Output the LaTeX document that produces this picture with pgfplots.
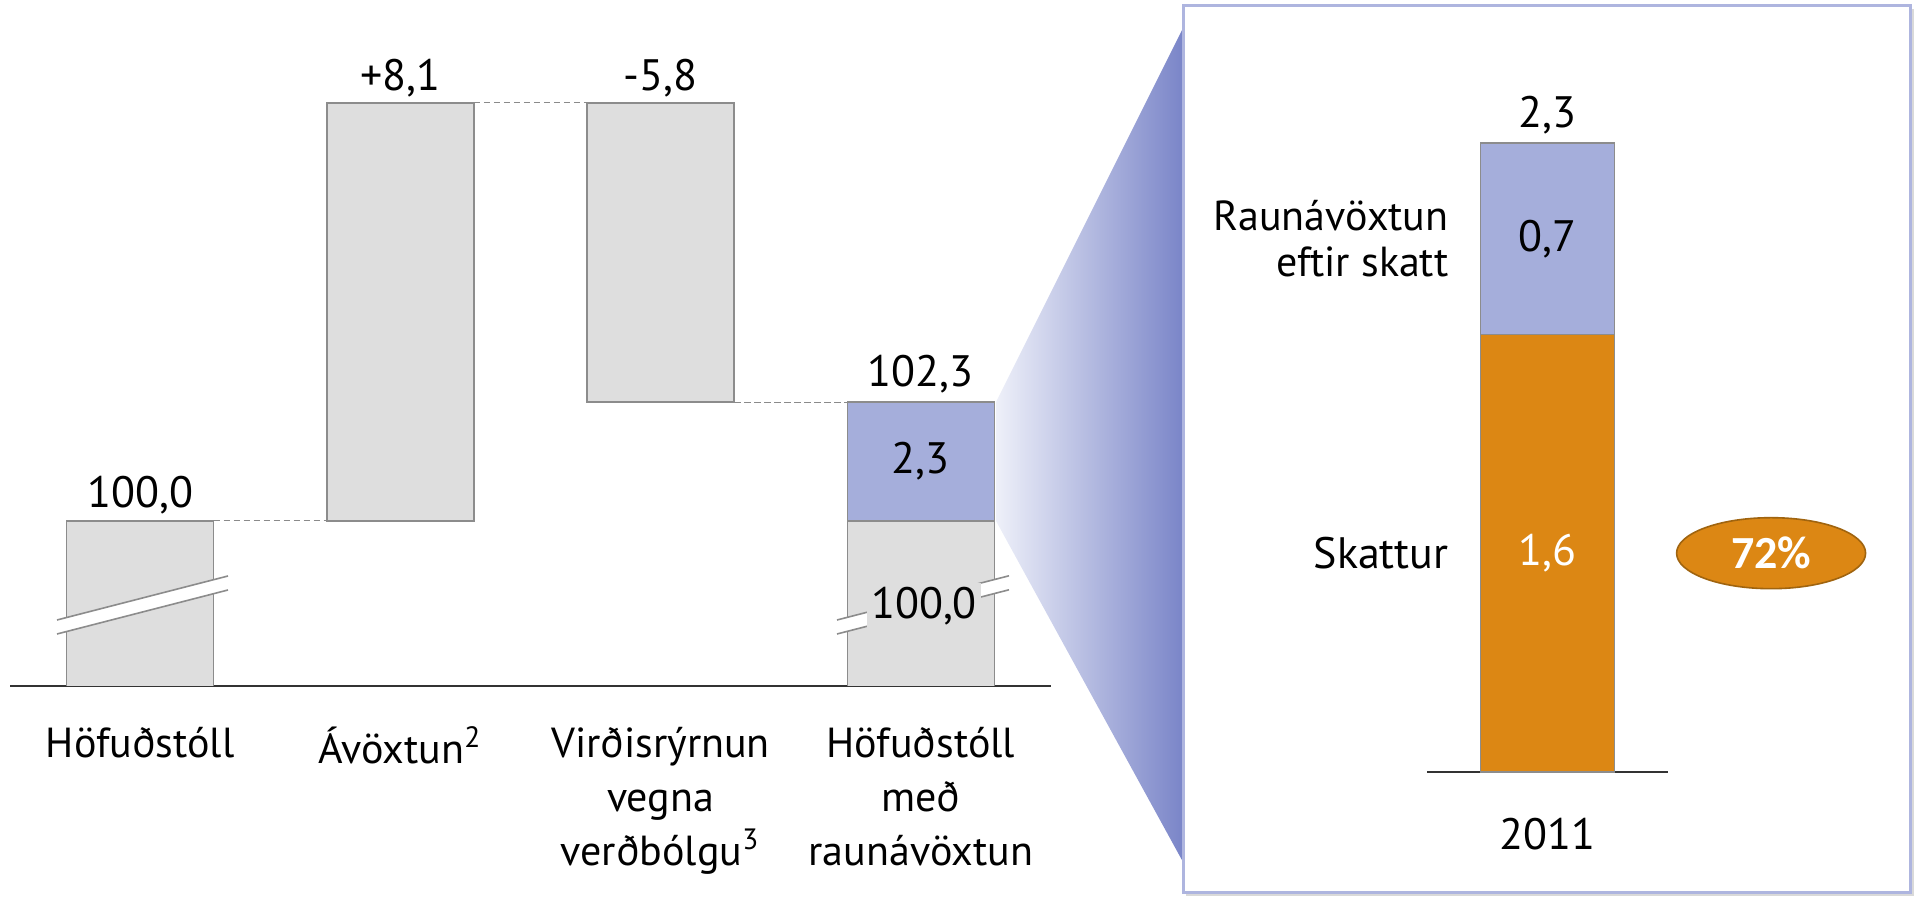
\documentclass[border=0pt]{standalone}
\usepackage{fontspec}
\setmainfont{PT Sans}
\newfontfamily\carlito{Carlito}
\usepackage{pgfplots}
\usepackage{pgfplotstable}
\pgfplotsset{compat=1.18}
\usetikzlibrary{shapes.geometric}
\definecolor{barGray}{HTML}{DEDEDE}
\definecolor{edgeGray}{HTML}{8C8C8C}
\definecolor{lav}{HTML}{A5AEDB}
\definecolor{lavFrame}{HTML}{AEB5DF}
\definecolor{orng}{HTML}{DC8714}
\definecolor{orngEdge}{HTML}{A0640F}
\definecolor{gradR}{HTML}{7A85C8}
\definecolor{gradL}{HTML}{EEF0F9}
\definecolor{axisDark}{HTML}{333333}
\definecolor{dashGray}{HTML}{8A8A8A}

\pgfplotstableread{
x base main top
0 0 100 0
1 100 8.1 0
2 102.3 5.8 0
3 0 100 2.3
}\waterfall
\pgfplotstableread{
x tax after
0 1.6 0.7
}\panel

\newcommand{\vlab}{\fontsize{11}{13}\selectfont}

\begin{document}
\begin{tikzpicture}
\path[use as bounding box] (0,0) rectangle (479pt,224.25pt);
% connecting gradient
\shade[left color=gradL, right color=gradR] (249pt,123.75pt) -- (295.75pt,217.25pt) -- (295.75pt,8.75pt) -- (249pt,94pt) -- cycle;
% frame with light shadow
\fill[black!15] (296.6pt,0.2pt) rectangle (478.4pt,221.9pt);
\filldraw[fill=white, draw=lavFrame, line width=0.75pt] (295.75pt,1pt) rectangle (477.5pt,222.75pt);

% ---------- waterfall ----------
\begin{axis}[
  at={(2.5pt,52.75pt)}, anchor=south west,
  scale only axis, width=260.25pt, height=170.3pt,
  xmin=-0.5, xmax=3.5, ymin=96.8, ymax=110,
  ybar stacked, bar width=0.565,
  axis x line=bottom, axis y line=none,
  x axis line style={-, draw=axisDark, line width=0.5pt},
  xtick={0,1,2,3},
  xticklabels={H\"ofu\dh st\'oll, \'Av\"oxtun\textsuperscript{2}, Vir\dh isr\'yrnun\\vegna\\ver\dh b\'olgu\textsuperscript{3}, H\"ofu\dh st\'oll\\me\dh\\raun\'av\"oxtun},
  major tick length=0pt,
  xticklabel style={align=center, font={\fontsize{10.5}{13.5}\selectfont}, yshift=-6.75pt},
  clip mode=individual,
]
\addplot[draw=none, fill=none] table[x=x,y=base]{\waterfall};
\addplot[fill=barGray, draw=edgeGray, line width=0.4pt] table[x=x,y=main]{\waterfall};
\addplot[fill=lav, draw=edgeGray, line width=0.4pt] table[x=x,y=top]{\waterfall};
\coordinate (d1a) at (axis cs:0.2825,100);
\coordinate (d1b) at (axis cs:0.7175,100);
\coordinate (d2a) at (axis cs:1.2825,108.1);
\coordinate (d2b) at (axis cs:1.7175,108.1);
\coordinate (d3a) at (axis cs:2.2825,102.3);
\coordinate (d3b) at (axis cs:2.7175,102.3);
\coordinate (L1) at (axis cs:0,100.5);
\coordinate (L2) at (axis cs:1,108.58);
\coordinate (L3) at (axis cs:2,108.58);
\coordinate (L4) at (axis cs:3,102.84);
\coordinate (L5) at (axis cs:3,101.15);
\end{axis}
\draw[dashGray, line width=0.3pt, dash pattern=on 1.6pt off 0.9pt] (d1a) -- (d1b);
\draw[dashGray, line width=0.3pt, dash pattern=on 1.6pt off 0.9pt] (d2a) -- (d2b);
\draw[dashGray, line width=0.3pt, dash pattern=on 1.6pt off 0.9pt] (d3a) -- (d3b);
\node[font=\vlab] at (L1) {100,0};
\node[font=\vlab] at (L2) {+8,1};
\node[font=\vlab] at (L3) {-5,8};
\node[font=\vlab] at (L4) {102,3};
\node[font=\vlab] at (L5) {2,3};

% axis breaks
\fill[white] (14.25pt,69.25pt) -- (57pt,80.25pt) -- (57pt,76.75pt) -- (14.25pt,65.75pt) -- cycle;
\draw[edgeGray, line width=0.4pt] (14.25pt,69.25pt) -- (57pt,80.25pt);
\draw[edgeGray, line width=0.4pt] (14.25pt,65.75pt) -- (57pt,76.75pt);
\fill[white] (209.25pt,69.25pt) -- (252.25pt,80.3pt) -- (252.25pt,76.8pt) -- (209.25pt,65.75pt) -- cycle;
\draw[edgeGray, line width=0.4pt] (209.25pt,69.25pt) -- (252.25pt,80.3pt);
\draw[edgeGray, line width=0.4pt] (209.25pt,65.75pt) -- (252.25pt,76.8pt);
\node[font=\vlab, fill=barGray, inner sep=1pt] at (231pt,72.75pt) {100,0};

% ---------- zoom panel ----------
\begin{axis}[
  at={(356.75pt,31.25pt)}, anchor=south west,
  scale only axis, width=60.25pt, height=191.45pt,
  xmin=-0.9, xmax=0.9, ymin=0, ymax=2.8,
  ybar stacked, bar width=1,
  axis x line=bottom, axis y line=none,
  x axis line style={-, draw=axisDark, line width=0.5pt},
  xtick={0}, xticklabels={2011},
  major tick length=0pt,
  xticklabel style={font=\vlab, yshift=-8pt},
  clip=false,
]
\addplot[fill=orng, draw=edgeGray, line width=0.4pt] table[x=x,y=tax]{\panel};
\addplot[fill=lav, draw=edgeGray, line width=0.4pt] table[x=x,y=after]{\panel};
\coordinate (P1) at (axis cs:0,2.4);
\coordinate (P2) at (axis cs:0,1.95);
\coordinate (P3) at (axis cs:0,0.8);
\coordinate (P4) at (axis cs:-0.5,1.95);
\coordinate (P5) at (axis cs:-0.5,0.8);
\coordinate (P6) at (axis cs:1.67,0.8);
\end{axis}
\node[font=\vlab] at (P1) {2,3};
\node[font=\vlab] at (P2) {0,7};
\node[font=\vlab, text=white] at (P3) {1,6};
\node[font={\fontsize{10.5}{11.5}\selectfont}, anchor=east, align=right, xshift=-4.5pt] at (P4) {Raun\'av\"oxtun\\eftir skatt};
\node[font=\vlab, anchor=east, xshift=-4.5pt] at (P5) {Skattur};
\node[ellipse, fill=orng, draw=orngEdge, line width=0.4pt, minimum width=47.25pt, minimum height=17.75pt, inner sep=0pt, text=white, font={\carlito\bfseries\fontsize{11.5}{13}\selectfont}] at (P6) {72\%};
\end{tikzpicture}
\end{document}
